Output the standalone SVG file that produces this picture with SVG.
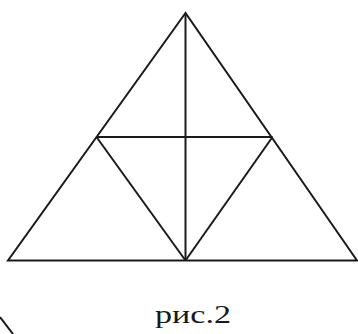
<svg xmlns="http://www.w3.org/2000/svg" width="358" height="334" viewBox="0 0 358 334">
<style>
.l{stroke:#1a1a1a;stroke-width:2;fill:none;stroke-linejoin:miter;stroke-linecap:butt}
.t{font-family:"Liberation Serif","Times New Roman",serif;font-size:25px;fill:#1a1a1a}
</style>
<rect width="358" height="334" fill="#fff"/>
<g id="figure">
<polygon class="l" points="185.5,13 8,260.5 357,260.5"/>
<line class="l" x1="96.5" y1="137" x2="272.5" y2="137"/>
<line class="l" x1="185.5" y1="13" x2="185.5" y2="260.5"/>
<line class="l" x1="96.5" y1="137" x2="185.5" y2="260.5"/>
<line class="l" x1="272.5" y1="137" x2="185.5" y2="260.5"/>
<line class="l" x1="0" y1="317" x2="13" y2="334"/>
</g>
<text class="t" x="155" y="323" textLength="76" lengthAdjust="spacingAndGlyphs">рис.2</text>
</svg>
